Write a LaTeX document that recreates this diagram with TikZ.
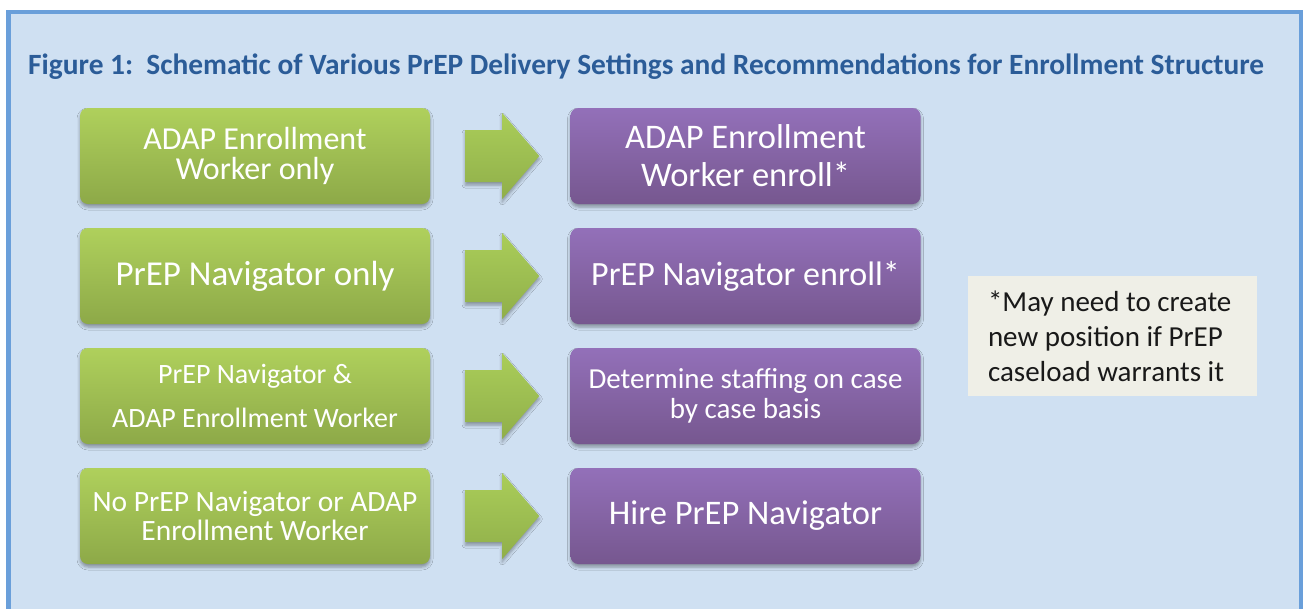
\documentclass[tikz,border=0pt]{standalone}
\usepackage{fontspec}
\setmainfont{Carlito}
\usetikzlibrary{calc,shadows.blur}

\definecolor{panel}{HTML}{CFE0F2}
\definecolor{framecol}{HTML}{6A9FDA}
\definecolor{titleblue}{HTML}{2B5C98}
\definecolor{greentop}{HTML}{AFD05C}
\definecolor{greenbot}{HTML}{8DA948}
\definecolor{arrowtop}{HTML}{AACD59}
\definecolor{arrowbot}{HTML}{90AF4A}
\definecolor{purptop}{HTML}{9370B9}
\definecolor{purpbot}{HTML}{76578F}
\definecolor{notefill}{HTML}{EFEFE7}

\newcommand{\fs}[2]{\fontsize{#1}{#2}\selectfont}

\begin{document}
\begin{tikzpicture}[x=1pt,y=-1pt,
  softshadow/.style={blur shadow={shadow xshift=0pt, shadow yshift=-3pt,
      shadow blur radius=3pt, shadow opacity=35}},
  box/.style={rounded corners=8pt, minimum width=350pt, minimum height=96pt,
      text=white, align=center, inner sep=0pt, softshadow},
  setting/.style={box, top color=greentop, bottom color=greenbot},
  action/.style={box, top color=purptop, bottom color=purpbot},
  flowarrow/.style={top color=arrowtop, bottom color=arrowbot, softshadow},
  notebox/.style={fill=notefill, minimum width=289pt, minimum height=120pt,
      inner xsep=20pt, text width=249pt, align=flush left, text=black!90}]

% canvas and panel frame
\useasboundingbox (0,0) rectangle (1303,608);
\clip (0,0) rectangle (1303,608);
\draw[draw=framecol, line width=4.4pt, fill=panel] (8.3,11.7) rectangle (1301.5,660);

% heading
\node[anchor=base west, inner sep=0pt, text=titleblue, font=\bfseries\fs{29.4}{34}] (title) at (28,74)
  {Figure 1:\ \ Schematic of Various PrEP Delivery Settings and Recommendations for Enrollment Structure};

% delivery settings
\node[setting, font=\fs{32}{30}] (g1) at (255,156) {ADAP Enrollment\\Worker only};
\node[setting, font=\fs{35}{38}] (g2) at (255,276) {PrEP Navigator only};
\node[setting, font=\fs{28}{44}] (g3) at (255,396) {PrEP Navigator \&\\ADAP Enrollment Worker};
\node[setting, font=\fs{29.5}{29.5}] (g4) at (255,516) {No PrEP Navigator or ADAP\\Enrollment Worker};

% recommended enrollment structure
\node[action, font=\fs{34.5}{38}] (p1) at (745.5,156) {ADAP Enrollment\\Worker enroll*};
\node[action, font=\fs{34}{38}] (p2) at (745.5,276) {PrEP Navigator enroll*};
\node[action, font=\fs{29}{30}] (p3) at (745.5,396) {Determine staffing on case\\by case basis};
\node[action, font=\fs{34.5}{38}] (p4) at (745.5,516) {Hire PrEP Navigator};

% block arrows from each setting to its recommendation
\foreach \i in {1,...,4} {
  \path[flowarrow]
    ($(g\i.east)+(35,-26)$) -- ($(g\i.east)+(72,-26)$) -- ($(g\i.east)+(72,-43)$)
    -- ($(p\i.west)+(-31,0)$)
    -- ($(g\i.east)+(72,43)$) -- ($(g\i.east)+(72,26)$) -- ($(g\i.east)+(35,26)$) -- cycle;
}

% footnote
\node[notebox, font=\fs{29}{35}] (note) at (1112.5,336) {*May need to create\\new position if PrEP\\caseload warrants it};
\end{tikzpicture}
\end{document}
